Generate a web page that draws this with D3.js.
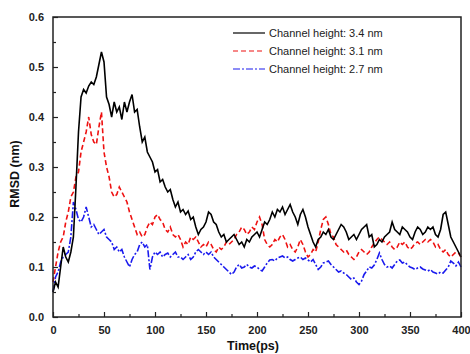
<!DOCTYPE html>
<html>
<head>
<meta charset="utf-8">
<script src="https://cdn.jsdelivr.net/npm/d3@7"></script>
<style>
  body { margin: 0; background: #fff; }
  .tick text { font-family: Arial, "Liberation Sans", sans-serif; font-weight: bold; font-size: 11px; fill: #222; }
  .domain { display: none; }
  .legend { font-family: Arial, "Liberation Sans", sans-serif; font-size: 11px; fill: #222; }
  .label { font-family: Arial, "Liberation Sans", sans-serif; font-size: 12.5px; font-weight: bold; fill: #111; }
</style>
</head>
<body>
<div id="chart"></div>
<script>
var width = 470;
var height = 354;

var step = 2.5;

var seriesNames = ["Channel height: 3.4 nm", "Channel height: 3.1 nm", "Channel height: 2.7 nm"];
var seriesColors = ["#000000", "#ee1111", "#1a1aee"];
var seriesDash = [null, "5,3", "7,2,2,2"];

var xTicks = [0, 50, 100, 150, 200, 250, 300, 350, 400];
var yTicks = [0.0, 0.1, 0.2, 0.3, 0.4, 0.5, 0.6];

// RMSD values (nm) every 2.5 ps, 0 -> 400 ps
var rmsd34 = [
  0.05,0.07,0.06,0.10,0.14,0.12,0.11,0.13,0.16,0.26,
  0.37,0.44,0.455,0.448,0.462,0.47,0.465,0.48,0.505,0.53,
  0.51,0.44,0.425,0.40,0.43,0.41,0.42,0.395,0.43,0.41,
  0.43,0.445,0.41,0.415,0.38,0.35,0.36,0.33,0.32,0.31,
  0.29,0.295,0.27,0.275,0.26,0.25,0.255,0.235,0.22,0.23,
  0.21,0.215,0.205,0.212,0.195,0.20,0.18,0.165,0.175,0.18,
  0.19,0.21,0.205,0.19,0.185,0.17,0.16,0.165,0.15,0.155,
  0.16,0.165,0.155,0.145,0.15,0.14,0.155,0.15,0.16,0.165,
  0.17,0.16,0.175,0.19,0.185,0.195,0.21,0.20,0.215,0.21,
  0.22,0.205,0.215,0.225,0.21,0.20,0.185,0.205,0.215,0.20,
  0.18,0.165,0.15,0.14,0.155,0.16,0.17,0.165,0.175,0.16,
  0.155,0.165,0.175,0.185,0.18,0.17,0.155,0.16,0.165,0.155,
  0.165,0.175,0.18,0.185,0.16,0.165,0.14,0.145,0.155,0.15,
  0.16,0.165,0.17,0.19,0.175,0.17,0.165,0.18,0.175,0.17,
  0.16,0.155,0.17,0.18,0.175,0.165,0.17,0.18,0.175,0.18,
  0.165,0.16,0.175,0.205,0.21,0.185,0.16,0.15,0.14,0.13,
  0.12
];

var rmsd31 = [
  0.07,0.10,0.13,0.15,0.16,0.19,0.21,0.24,0.25,0.28,
  0.29,0.33,0.35,0.37,0.40,0.365,0.35,0.345,0.38,0.41,
  0.33,0.30,0.28,0.25,0.24,0.245,0.26,0.25,0.24,0.23,
  0.21,0.195,0.18,0.165,0.17,0.16,0.165,0.18,0.19,0.185,
  0.20,0.205,0.195,0.19,0.175,0.17,0.18,0.165,0.16,0.165,
  0.155,0.14,0.15,0.145,0.16,0.155,0.16,0.15,0.14,0.145,
  0.14,0.15,0.145,0.135,0.13,0.14,0.135,0.14,0.15,0.145,
  0.15,0.155,0.165,0.17,0.18,0.175,0.165,0.17,0.18,0.175,
  0.19,0.20,0.185,0.155,0.145,0.14,0.145,0.155,0.15,0.16,
  0.165,0.155,0.14,0.145,0.135,0.13,0.14,0.155,0.145,0.13,
  0.12,0.125,0.135,0.13,0.15,0.175,0.195,0.20,0.185,0.165,
  0.16,0.145,0.14,0.135,0.13,0.134,0.125,0.12,0.115,0.12,
  0.13,0.135,0.13,0.125,0.13,0.14,0.148,0.155,0.16,0.155,
  0.15,0.145,0.15,0.14,0.135,0.14,0.15,0.145,0.15,0.14,
  0.135,0.14,0.148,0.15,0.145,0.15,0.155,0.15,0.155,0.15,
  0.14,0.145,0.135,0.13,0.135,0.125,0.12,0.125,0.13,0.128,
  0.12
];

var rmsd27 = [
  0.05,0.08,0.09,0.11,0.12,0.125,0.13,0.16,0.23,0.215,
  0.195,0.19,0.20,0.22,0.20,0.18,0.185,0.175,0.165,0.17,
  0.175,0.16,0.155,0.15,0.135,0.14,0.13,0.135,0.12,0.11,
  0.10,0.115,0.125,0.13,0.145,0.15,0.14,0.145,0.095,0.12,
  0.13,0.125,0.13,0.12,0.125,0.128,0.12,0.125,0.13,0.12,
  0.12,0.115,0.12,0.125,0.115,0.12,0.13,0.135,0.13,0.125,
  0.13,0.125,0.13,0.12,0.115,0.11,0.105,0.10,0.095,0.09,
  0.085,0.09,0.10,0.105,0.098,0.10,0.105,0.10,0.098,0.102,
  0.10,0.095,0.092,0.10,0.108,0.114,0.115,0.112,0.118,0.12,
  0.122,0.118,0.12,0.115,0.112,0.115,0.118,0.12,0.115,0.118,
  0.114,0.11,0.115,0.105,0.095,0.10,0.108,0.11,0.112,0.105,
  0.10,0.095,0.09,0.092,0.088,0.085,0.08,0.075,0.078,0.07,
  0.065,0.072,0.085,0.092,0.10,0.098,0.104,0.115,0.128,0.115,
  0.105,0.10,0.102,0.098,0.105,0.112,0.114,0.108,0.11,0.104,
  0.10,0.098,0.095,0.098,0.10,0.096,0.094,0.092,0.095,0.09,
  0.088,0.086,0.09,0.088,0.094,0.10,0.112,0.108,0.102,0.11,
  0.10
];

var allSeries = [rmsd34, rmsd31, rmsd27];

var xScale = d3.scaleLinear()
    .domain([0, 400])
    .range([53, 461]);

var yScale = d3.scaleLinear()
    .domain([0, 0.6])
    .range([317, 17]);

var svg = d3.select("#chart")
    .append("svg")
    .attr("width", width)
    .attr("height", height);

var line = d3.line()
    .x(function(d, i) { return xScale(i * step); })
    .y(function(d) { return yScale(d); });

// draw the traces (2.7 first so black sits on top like the original)
for (var s = allSeries.length - 1; s >= 0; --s) {
    svg.append("path")
        .datum(allSeries[s])
        .attr("fill", "none")
        .attr("stroke", seriesColors[s])
        .attr("stroke-width", 1.6)
        .attr("stroke-dasharray", seriesDash[s])
        .attr("d", line);
}

// frame
svg.append("rect")
    .attr("x", xScale(0))
    .attr("y", yScale(0.6))
    .attr("width", xScale(400) - xScale(0))
    .attr("height", yScale(0) - yScale(0.6))
    .attr("fill", "none")
    .attr("stroke", "#222")
    .attr("stroke-width", 1.5);

// axes, ticks point inward
var xAxis = d3.axisBottom(xScale)
    .tickValues(xTicks)
    .tickSizeInner(-5)
    .tickSizeOuter(0)
    .tickPadding(9)
    .tickFormat(d3.format("d"));

var xMinor = d3.axisBottom(xScale)
    .tickValues(xTicks.slice(0, -1).map(function(d) { return d + 25; }))
    .tickSizeInner(-3)
    .tickSizeOuter(0)
    .tickFormat("");

var yAxis = d3.axisLeft(yScale)
    .tickValues(yTicks)
    .tickSizeInner(-5)
    .tickSizeOuter(0)
    .tickPadding(9)
    .tickFormat(d3.format(".1f"));

var yMinor = d3.axisLeft(yScale)
    .tickValues(yTicks.slice(0, -1).map(function(d) { return d + 0.05; }))
    .tickSizeInner(-3)
    .tickSizeOuter(0)
    .tickFormat("");

svg.append("g")
    .attr("transform", "translate(0," + yScale(0) + ")")
    .call(xAxis);
svg.append("g")
    .attr("transform", "translate(0," + yScale(0) + ")")
    .call(xMinor);
svg.append("g")
    .attr("transform", "translate(" + xScale(0) + ",0)")
    .call(yAxis);
svg.append("g")
    .attr("transform", "translate(" + xScale(0) + ",0)")
    .call(yMinor);

svg.selectAll(".tick line")
    .attr("stroke", "#222")
    .attr("stroke-width", 1.2);

// axis titles
svg.append("text")
    .attr("class", "label")
    .attr("x", 253)
    .attr("y", 350)
    .style("text-anchor", "middle")
    .text("Time(ps)");

svg.append("text")
    .attr("class", "label")
    .attr("transform", "translate(19,174) rotate(-90)")
    .style("text-anchor", "middle")
    .text("RMSD (nm)");

// legend
var legend = svg.selectAll(".legendItem")
    .data(seriesNames)
    .enter()
    .append("g")
    .attr("class", "legendItem")
    .attr("transform", function(d, i) { return "translate(233," + (33 + i * 18) + ")"; });

legend.append("line")
    .attr("x1", 0)
    .attr("x2", 32)
    .attr("y1", 0)
    .attr("y2", 0)
    .attr("stroke", function(d, i) { return seriesColors[i]; })
    .attr("stroke-width", 1.2)
    .attr("stroke-dasharray", function(d, i) { return seriesDash[i]; });

legend.append("text")
    .attr("class", "legend")
    .attr("x", 36)
    .attr("y", 4)
    .text(function(d) { return d; });
</script>
</body>
</html>
